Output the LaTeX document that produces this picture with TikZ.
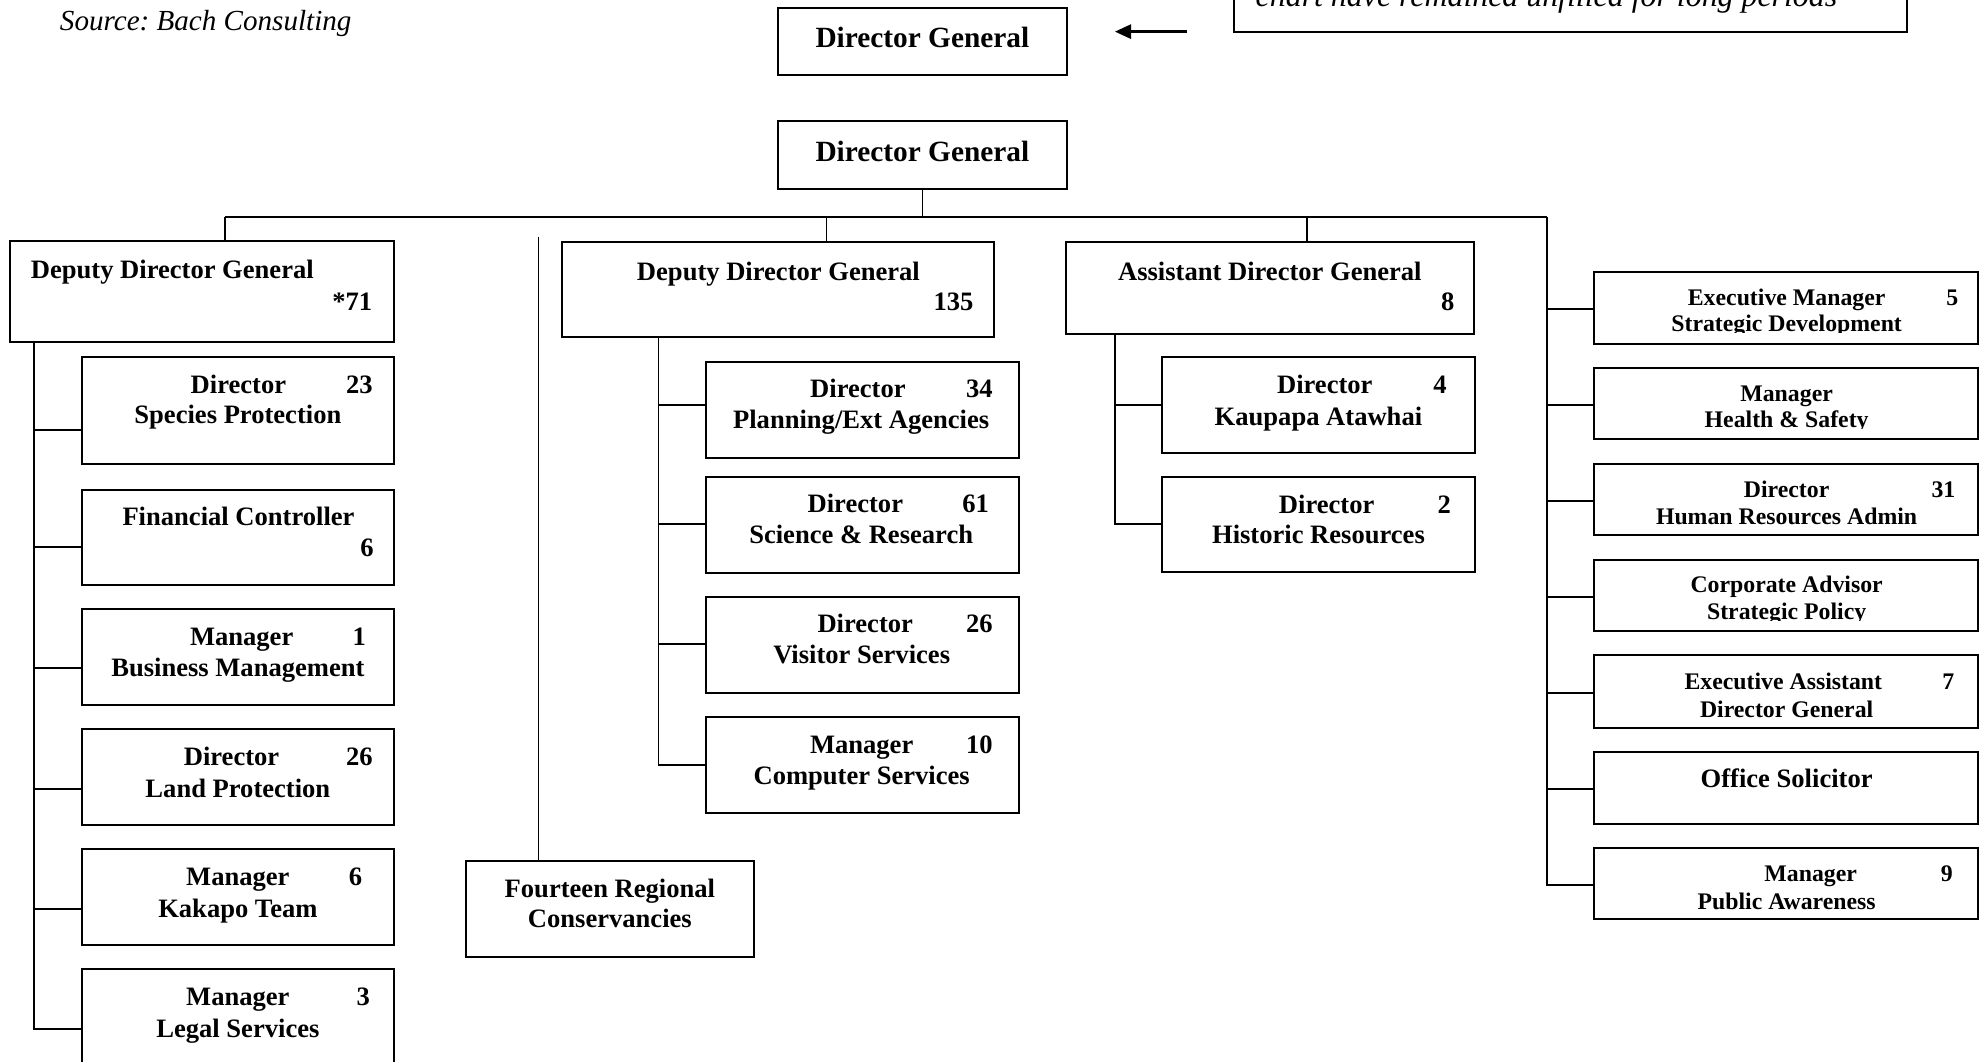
\documentclass[tikz,border=0pt]{standalone}
\usepackage{fontspec}
\setmainfont{Liberation Serif}
\usetikzlibrary{arrows.meta}
\frenchspacing
\newcommand{\bx}[5]{\pgfmathsetmacro{\myBW}{(#4-#2)*0.5}\pgfmathsetmacro{\myBH}{(#5-#3)*0.5}\node[box, minimum width=\myBW pt, minimum height=\myBH pt] (#1) at ({(#2+#4)/2},{(#3+#5)/2}) {};}
\begin{document}
\begin{tikzpicture}[x=0.5pt,y=-0.5pt,
 box/.style={draw, rectangle, line width=0.8pt, inner sep=0pt},
 wire/.style={line width=0.7pt},
 lbl/.style={anchor=base, inner sep=0pt, font=\fontsize{10.5}{12}\selectfont\bfseries},
 lbls/.style={anchor=base, inner sep=0pt, font=\fontsize{9.4}{11}\selectfont\bfseries},
 lblb/.style={anchor=base, inner sep=0pt, font=\fontsize{11.6}{14}\selectfont\bfseries},
 notetext/.style={anchor=base west, inner sep=0pt, font=\fontsize{12.6}{15}\selectfont\itshape},
 srctext/.style={anchor=base west, inner sep=0pt, font=\fontsize{11.5}{14}\selectfont\itshape}]
\useasboundingbox (0,0) rectangle (1568,839);

% header
\node[srctext] (src) at (47,24.5) {Source: Bach Consulting};
\bx{note}{975}{-40}{1507}{25}
\node[notetext] (notetxt) at (992,5) {chart have remained unfilled for long periods};
\bx{dgtop}{615}{6}{843}{59}
\node[lblb] (dgtopt) at (729,37.2) {Director General};
\coordinate (arT) at (938,25);
\coordinate (arH) at (881,25);
\draw[line width=1.35pt, -{Triangle[length=6.5pt,width=5.5pt]}] (arT) -- (arH);

% director general
\bx{dg}{615}{96}{843}{149}
\node[lblb] (dgt) at (729,128) {Director General};

% second level
\bx{ddg1}{8}{190.5}{311.5}{270}
\node[lbl, anchor=base west] (ddg1t) at (24,220) {Deputy Director General};
\node[lbl, anchor=base east] (ddg1n) at (294.6,245.4) {*71};
\bx{ddg2}{444}{191}{785.6}{266.6}
\node[lbl] (ddg2t) at (615.2,221.7) {Deputy Director General};
\node[lbl, anchor=base east] (ddg2n) at (769.7,245.4) {135};
\bx{adg}{842.3}{191}{1165.3}{264.2}
\node[lbl] (adgt) at (1003.6,222) {Assistant Director General};
\node[lbl] (adgn) at (1144.2,245.4) {8};

% bus
\coordinate (busL) at (178,171.5);
\coordinate (busR) at (1222.5,171.5);
\coordinate (dropB) at (653.2,171.5);
\coordinate (dropC) at (1032.8,171.5);
\draw[wire] (dg.south) -- (dg.south |- busL);
\draw[wire] (busL) -- (busR);
\draw[wire] (busL) -- (busL |- ddg1.north);
\draw[wire] (dropB) -- (dropB |- ddg2.north);
\draw[wire] (dropC) -- (dropC |- adg.north);

% left column
\bx{sp}{65}{282}{311.5}{367}
\node[lbl] (sp1) at (188.4,311.3) {Director};
\node[lbl] (sp2) at (284,311.3) {23};
\node[lbl] (sp3) at (188,335) {Species Protection};
\bx{fc}{65}{387}{311.5}{462}
\node[lbl] (fc1) at (188.5,415) {Financial Controller};
\node[lbl] (fc2) at (290,440) {6};
\bx{bm}{65}{481.3}{311.5}{557.2}
\node[lbl] (bm1) at (191,510) {Manager};
\node[lbl] (bm2) at (284,510) {1};
\node[lbl] (bm3) at (188,535) {Business Management};
\bx{lp}{65}{576.1}{311.5}{652}
\node[lbl] (lp1) at (183,605) {Director};
\node[lbl] (lp2) at (284,605) {26};
\node[lbl] (lp3) at (188,630) {Land Protection};
\bx{kt}{65}{671}{311.5}{747}
\node[lbl] (kt1) at (188,700) {Manager};
\node[lbl] (kt2) at (281,700) {6};
\node[lbl] (kt3) at (188,725) {Kakapo Team};
\bx{lg}{65}{765.8}{311.5}{862}
\node[lbl] (lg1) at (188,795) {Manager};
\node[lbl] (lg2) at (287,795) {3};
\node[lbl] (lg3) at (188,820) {Legal Services};

\coordinate (lsx) at (27,270);
\coordinate (sp-in) at (65,340);
\coordinate (fc-in) at (65,432.5);
\coordinate (bm-in) at (65,528);
\coordinate (lp-in) at (65,623.6);
\coordinate (kt-in) at (65,718.4);
\coordinate (lg-in) at (65,813.2);
\draw[wire] (lsx) |- (lg-in);
\foreach \c in {sp-in,fc-in,bm-in,lp-in,kt-in}
  \draw[wire] (lsx |- \c) -- (\c);

% fourteen regional
\bx{frc}{368}{680.5}{596}{756}
\node[lbl] (frc1) at (482,709) {Fourteen Regional};
\node[lbl] (frc2) at (482,733.3) {Conservancies};
\coordinate (ftop) at (425.5,187);
\draw[wire] (ftop) -- (ftop |- frc.north);

% middle column
\bx{pl}{557.7}{285.8}{805}{361.7}
\node[lbl] (pl1) at (678,313.8) {Director};
\node[lbl] (pl2) at (774,313.8) {34};
\node[lbl] (pl3) at (680.6,339) {Planning/Ext Agencies};
\bx{sr}{557.7}{376.7}{805}{452.9}
\node[lbl] (sr1) at (676,405.3) {Director};
\node[lbl] (sr2) at (771,405.3) {61};
\node[lbl] (sr3) at (680.6,429.8) {Science \& Research};
\bx{vs}{557.7}{471.6}{805}{547.4}
\node[lbl] (vs1) at (683.8,500.2) {Director};
\node[lbl] (vs2) at (774,500.2) {26};
\node[lbl] (vs3) at (681,524.7) {Visitor Services};
\bx{cs}{557.7}{566.4}{805}{642.3}
\node[lbl] (cs1) at (681,595.5) {Manager};
\node[lbl] (cs2) at (774,595.5) {10};
\node[lbl] (cs3) at (681,620.3) {Computer Services};

\coordinate (msx) at (520.5,266.6);
\coordinate (pl-in) at (557.7,320);
\coordinate (sr-in) at (557.7,414.4);
\coordinate (vs-in) at (557.7,509.2);
\coordinate (cs-in) at (557.7,604.4);
\draw[wire] (msx) |- (cs-in);
\foreach \c in {pl-in,sr-in,vs-in}
  \draw[wire] (msx |- \c) -- (\c);

% assistant DG column
\bx{ka}{918.6}{282.1}{1165.7}{357.8}
\node[lbl] (ka1) at (1047,311.3) {Director};
\node[lbl] (ka2) at (1138,311.3) {4};
\node[lbl] (ka3) at (1042,336.3) {Kaupapa Atawhai};
\bx{hr}{918.6}{377.3}{1165.7}{452.3}
\node[lbl] (hr1) at (1048.5,406.1) {Director};
\node[lbl] (hr2) at (1141.5,406.1) {2};
\node[lbl] (hr3) at (1042,429.8) {Historic Resources};
\coordinate (asx) at (881.5,264.2);
\coordinate (ka-in) at (918.6,319.8);
\coordinate (hr-in) at (918.6,414.1);
\draw[wire] (asx) |- (hr-in);
\draw[wire] (asx |- ka-in) -- (ka-in);

% right column
\bx{ra}{1260}{215}{1563.5}{271.6}
\node[lbls] (ra1) at (1412,241.2) {Executive Manager};
\node[lbls] (ra2) at (1543,241.2) {5};
\begin{scope}
\clip (1260,215) rectangle (1563.5,262.9);
\node[lbls] (ra3) at (1412,262.2) {Strategic Development};
\end{scope}
\bx{rb}{1260}{290.6}{1563.5}{347.2}
\node[lbls] (rb1) at (1412,317.1) {Manager};
\begin{scope}
\clip (1260,290.6) rectangle (1563.5,338.9);
\node[lbls] (rb2) at (1412,338.2) {Health \& Safety};
\end{scope}
\bx{rc}{1260}{367}{1563.5}{423}
\node[lbls] (rc1) at (1412,392.9) {Director};
\node[lbls] (rc2) at (1535.9,392.9) {31};
\node[lbls] (rc3) at (1412,414.5) {Human Resources Admin};
\bx{rd}{1260}{442.6}{1563.5}{498.7}
\node[lbls] (rd1) at (1412,468.5) {Corporate Advisor};
\begin{scope}
\clip (1260,442.6) rectangle (1563.5,490.3);
\node[lbls] (rd2) at (1412,489.6) {Strategic Policy};
\end{scope}
\bx{re}{1260}{517.9}{1563.5}{575.1}
\node[lbls] (re1) at (1409.4,544.9) {Executive Assistant};
\node[lbls] (re2) at (1539.8,544.9) {7};
\node[lbls] (re3) at (1412,566.8) {Director General};
\bx{rf}{1260}{594.3}{1563.5}{651}
\node[lbl] (rf1) at (1412,622.7) {Office Solicitor};
\bx{rg}{1260}{670.2}{1563.5}{726.6}
\node[lbls] (rg1) at (1431,696.4) {Manager};
\node[lbls] (rg2) at (1538.5,696.4) {9};
\node[lbls] (rg3) at (1412,718.8) {Public Awareness};

\coordinate (r1-in) at (1260,244);
\coordinate (r2-in) at (1260,319.8);
\coordinate (r3-in) at (1260,395.7);
\coordinate (r4-in) at (1260,471.6);
\coordinate (r5-in) at (1260,547.4);
\coordinate (r6-in) at (1260,623.6);
\coordinate (r7-in) at (1260,699.2);
\draw[wire] (busR) |- (r7-in);
\foreach \c in {r1-in,r2-in,r3-in,r4-in,r5-in,r6-in}
  \draw[wire] (busR |- \c) -- (\c);
\end{tikzpicture}
\end{document}
